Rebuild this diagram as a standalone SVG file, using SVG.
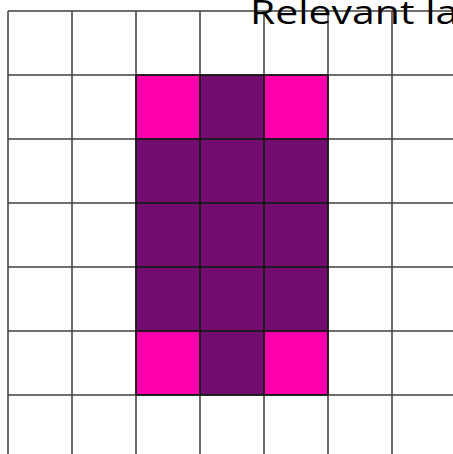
<svg xmlns="http://www.w3.org/2000/svg" width="453" height="454" viewBox="0 0 453 454">
<style>
.p{fill:#730C6F}
.m{fill:#FF00AA}
.g{stroke:#3f3f3f;stroke-width:1.5;fill:none}
.t{font-family:"Open Sans","DejaVu Sans",sans-serif;font-size:32px;fill:#000}
</style>
<rect width="453" height="454" fill="#fff"/>
<g id="cells">
<rect class="m" x="136" y="75" width="64" height="64"/>
<rect class="p" x="200" y="75" width="64" height="64"/>
<rect class="m" x="264" y="75" width="64" height="64"/>
<rect class="p" x="136" y="139" width="192" height="192"/>
<rect class="m" x="136" y="331" width="64" height="64"/>
<rect class="p" x="200" y="331" width="64" height="64"/>
<rect class="m" x="264" y="331" width="64" height="64"/>
</g>
<g id="grid" class="g">
<path d="M8 11H453M8 75H453M8 139H453M8 203H453M8 267H453M8 331H453M8 395H453"/>
<path d="M8 11V454M72 11V454M136 11V454M200 11V454M264 11V454M328 11V454M392 11V454"/>
<path d="M136 75H328M136 139H328M136 203H328M136 267H328M136 331H328M136 395H328M136 75V395M200 75V395M264 75V395M328 75V395" stroke="#111"/>
</g>
<text class="t" transform="translate(250 23.5) scale(1.28 1)">Relevant la</text>
</svg>
